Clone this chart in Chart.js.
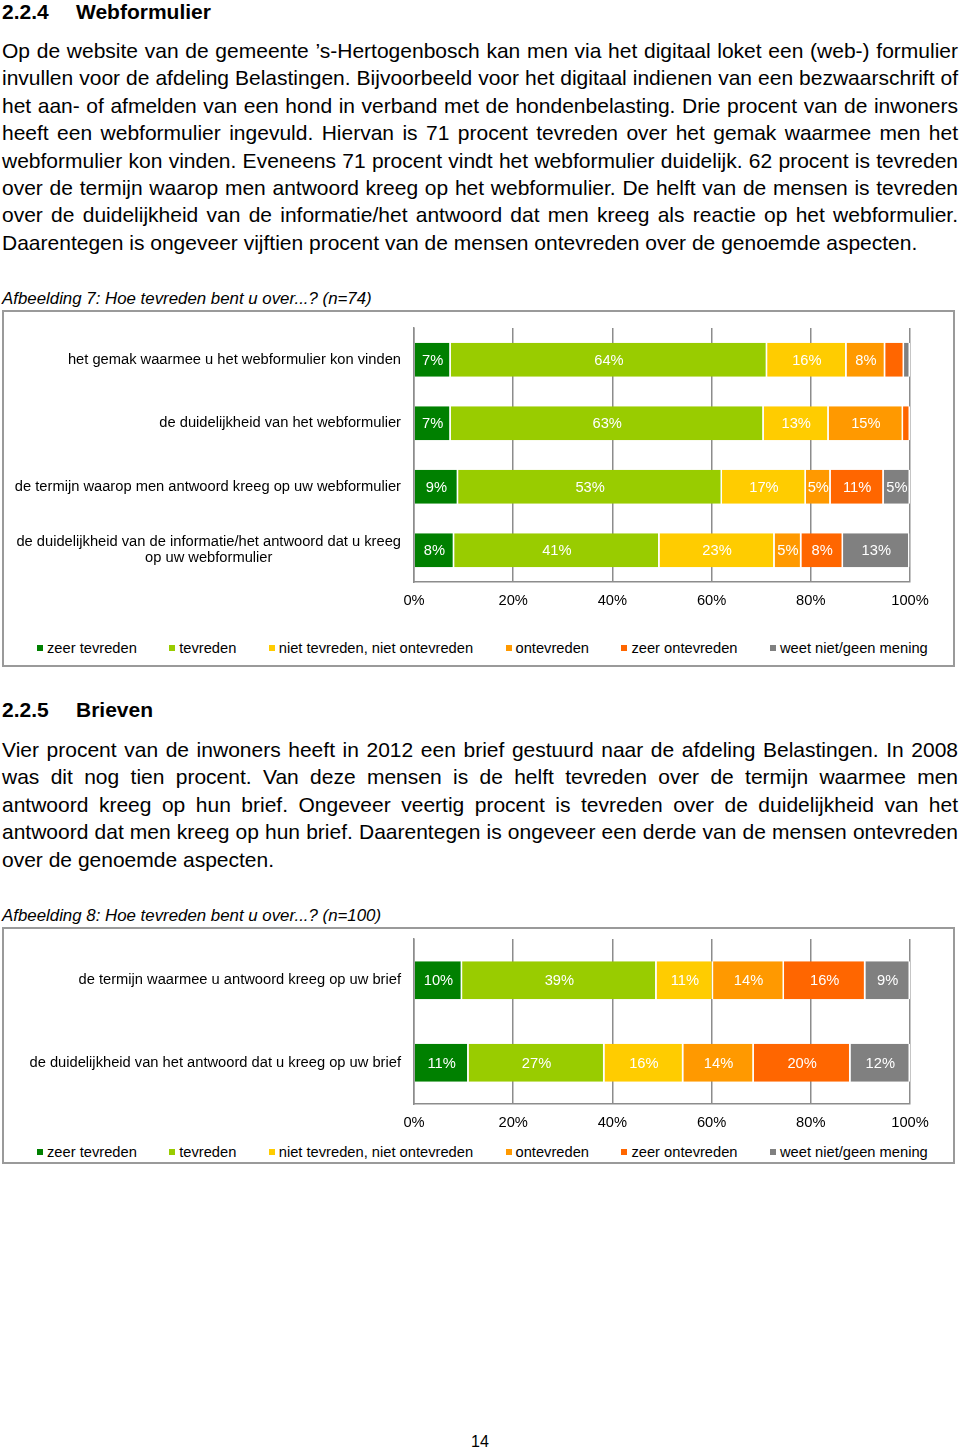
<!DOCTYPE html>
<html>
<head>
<meta charset="utf-8">
<script src="https://cdn.jsdelivr.net/npm/chart.js@4/dist/chart.umd.min.js"></script>
<style>
body{margin:0;width:960px;height:1452px;background:#fff;color:#000;position:relative;overflow:hidden;font-family:"Liberation Sans",Arial,sans-serif}
.abs{position:absolute}
.head{position:absolute;left:2px;font-size:21px;font-weight:bold;line-height:24px;white-space:nowrap}
.head span{position:absolute;left:74px}
.par{position:absolute;left:2px;width:956px;font-size:21px;line-height:27.4px}
.par div{text-align:justify;text-align-last:justify;height:27.4px}
.par div.last{text-align:left;text-align-last:left}
.cap{position:absolute;left:2px;font-size:16.85px;font-style:italic;line-height:20px;white-space:nowrap}
.box{position:absolute;left:2px;width:949px;border:2px solid #9a9a9a}
canvas{position:absolute}
.legend{position:absolute;left:37px;display:flex;font-size:14.7px;line-height:16px;white-space:nowrap}
.legend .it{display:flex;align-items:center;margin-right:32.4px}
.legend .sq{width:6px;height:6px;margin-right:4px}
</style>
</head>
<body>
<div class="head" style="top:0">2.2.4<span>Webformulier</span></div>
<div class="par" style="top:37px">
<div>Op de website van de gemeente ’s-Hertogenbosch kan men via het digitaal loket een (web-) formulier</div>
<div>invullen voor de afdeling Belastingen. Bijvoorbeeld voor het digitaal indienen van een bezwaarschrift of</div>
<div>het aan- of afmelden van een hond in verband met de hondenbelasting. Drie procent van de inwoners</div>
<div>heeft een webformulier ingevuld. Hiervan is 71 procent tevreden over het gemak waarmee men het</div>
<div>webformulier kon vinden. Eveneens 71 procent vindt het webformulier duidelijk. 62 procent is tevreden</div>
<div>over de termijn waarop men antwoord kreeg op het webformulier. De helft van de mensen is tevreden</div>
<div>over de duidelijkheid van de informatie/het antwoord dat men kreeg als reactie op het webformulier.</div>
<div class="last">Daarentegen is ongeveer vijftien procent van de mensen ontevreden over de genoemde aspecten.</div>
</div>
<div class="cap" style="top:289px">Afbeelding 7: Hoe tevreden bent u over...? (n=74)</div>
<div class="box" style="top:310px;height:353px"></div>
<canvas id="chartWeb" width="949" height="310" style="left:4px;top:312px"></canvas>
<div class="legend" id="legendWeb" style="top:640px"></div>

<div class="head" style="top:698px">2.2.5<span>Brieven</span></div>
<div class="par" style="top:736px">
<div>Vier procent van de inwoners heeft in 2012 een brief gestuurd naar de afdeling Belastingen. In 2008</div>
<div>was dit nog tien procent. Van deze mensen is de helft tevreden over de termijn waarmee men</div>
<div>antwoord kreeg op hun brief. Ongeveer veertig procent is tevreden over de duidelijkheid van het</div>
<div>antwoord dat men kreeg op hun brief. Daarentegen is ongeveer een derde van de mensen ontevreden</div>
<div class="last">over de genoemde aspecten.</div>
</div>
<div class="cap" style="top:906px">Afbeelding 8: Hoe tevreden bent u over...? (n=100)</div>
<div class="box" style="top:927px;height:233px"></div>
<canvas id="chartBrief" width="949" height="215" style="left:4px;top:929px"></canvas>
<div class="legend" id="legendBrief" style="top:1144px"></div>

<div class="abs" style="left:0;width:960px;top:1432px;text-align:center;font-size:16px;line-height:20px">14</div>

<script>
// shared
var seriesNames = ['zeer tevreden', 'tevreden', 'niet tevreden, niet ontevreden', 'ontevreden', 'zeer ontevreden', 'weet niet/geen mening'];
var seriesColors = ['#008000', '#99cc00', '#ffcc00', '#ff9900', '#ff6600', '#808080'];
var xTickLabels = ['0%', '20%', '40%', '60%', '80%', '100%'];

// Afbeelding 7 - webformulier (n=74)
var webCategories = [
	['het gemak waarmee u het webformulier kon vinden'],
	['de duidelijkheid van het webformulier'],
	['de termijn waarop men antwoord kreeg op uw webformulier'],
	['de duidelijkheid van de informatie/het antwoord dat u kreeg', 'op uw webformulier']
];
var webZeerTevreden   = [7.4, 7.4, 8.9, 8.1];
var webTevreden       = [63.8, 63.1, 53.2, 41.4];
var webNeutraal       = [16.0, 13.1, 16.9, 23.2];
var webOntevreden     = [7.8, 15.0, 5.0, 5.4];
var webZeerOntevreden = [3.8, 1.4, 10.7, 8.4];
var webWeetNiet       = [1.2, 0, 5.3, 13.4];

// Afbeelding 8 - brieven (n=100)
var briefCategories = [
	['de termijn waarmee u antwoord kreeg op uw brief'],
	['de duidelijkheid van het antwoord dat u kreeg op uw brief']
];
var briefZeerTevreden   = [9.7, 11.0];
var briefTevreden       = [39.2, 27.4];
var briefNeutraal       = [11.4, 15.9];
var briefOntevreden     = [14.3, 14.2];
var briefZeerOntevreden = [16.4, 19.5];
var briefWeetNiet       = [9.0, 12.0];

var FONT = '"Liberation Sans", Arial, sans-serif';
var FSIZE = 14.7;

// white percentages inside the segments
var valueLabels = {
	id: 'valueLabels',
	afterDatasetsDraw: function(chart) {
		var ctx = chart.ctx;
		ctx.save();
		ctx.font = FSIZE + 'px ' + FONT;
		ctx.fillStyle = '#fff';
		ctx.textAlign = 'center';
		ctx.textBaseline = 'middle';
		chart.data.datasets.forEach(function(ds, i) {
			chart.getDatasetMeta(i).data.forEach(function(el, j) {
				var v = Math.round(ds.data[j]);
				if (v < 5) return;
				ctx.fillText(v + '%', (el.x + el.base) / 2, el.y + 1);
			});
		});
		ctx.restore();
	}
};

// category texts left of the bars, wrapped lines centred as a block
var categoryLabels = {
	id: 'categoryLabels',
	afterDraw: function(chart) {
		var ctx = chart.ctx, yScale = chart.scales.y;
		var right = chart.chartArea.left - 13;
		ctx.save();
		ctx.font = FSIZE + 'px ' + FONT;
		ctx.fillStyle = '#000';
		ctx.textAlign = 'center';
		ctx.textBaseline = 'middle';
		chart.data.labels.forEach(function(lines, i) {
			var w = 0;
			lines.forEach(function(l) { w = Math.max(w, ctx.measureText(l).width); });
			var cy = yScale.getPixelForTick(i);
			var y0 = cy - (lines.length - 1) * 16 / 2;
			lines.forEach(function(l, k) {
				ctx.fillText(l, right - w / 2, y0 + k * 16);
			});
		});
		ctx.restore();
	}
};

function makeDatasets(values, barPct) {
	return values.map(function(d, i) {
		return {
			label: seriesNames[i],
			data: d,
			backgroundColor: seriesColors[i],
			borderColor: '#fff',
			borderWidth: {top: 0, bottom: 0, left: 0, right: 1.5},
			borderSkipped: false,
			barPercentage: barPct,
			categoryPercentage: 1
		};
	});
}

function makeChart(id, labels, values, barPct, padding) {
	return new Chart(document.getElementById(id).getContext('2d'), {
		type: 'bar',
		data: {labels: labels, datasets: makeDatasets(values, barPct)},
		options: {
			indexAxis: 'y',
			responsive: false,
			animation: false,
			layout: {padding: padding},
			plugins: {legend: {display: false}, tooltip: {enabled: false}},
			scales: {
				x: {
					stacked: true, min: 0, max: 100,
					afterFit: function(s) { s.height = 30; },
					ticks: {
						stepSize: 20, padding: 10, color: '#000',
						font: {family: FONT, size: FSIZE},
						callback: function(v) { return xTickLabels[v / 20]; }
					},
					grid: {color: '#8c8c8c', lineWidth: 1.5, drawTicks: false},
					border: {display: true, color: '#8c8c8c', width: 1.5}
				},
				y: {
					stacked: true,
					ticks: {display: false},
					grid: {display: false},
					border: {display: true, color: '#8c8c8c', width: 1.5}
				}
			}
		},
		plugins: [valueLabels, categoryLabels]
	});
}

function buildLegend(id) {
	var el = document.getElementById(id);
	seriesNames.forEach(function(n, i) {
		var it = document.createElement('div');
		it.className = 'it';
		it.innerHTML = '<div class="sq" style="background:' + seriesColors[i] + '"></div><span>' + n + '</span>';
		el.appendChild(it);
	});
}

makeChart('chartWeb', webCategories,
	[webZeerTevreden, webTevreden, webNeutraal, webOntevreden, webZeerOntevreden, webWeetNiet],
	0.535, {left: 402, right: 43, top: 16, bottom: 10});
makeChart('chartBrief', briefCategories,
	[briefZeerTevreden, briefTevreden, briefNeutraal, briefOntevreden, briefZeerOntevreden, briefWeetNiet],
	0.46, {left: 402, right: 43, top: 10, bottom: 10});
buildLegend('legendWeb');
buildLegend('legendBrief');
</script>
</body>
</html>
